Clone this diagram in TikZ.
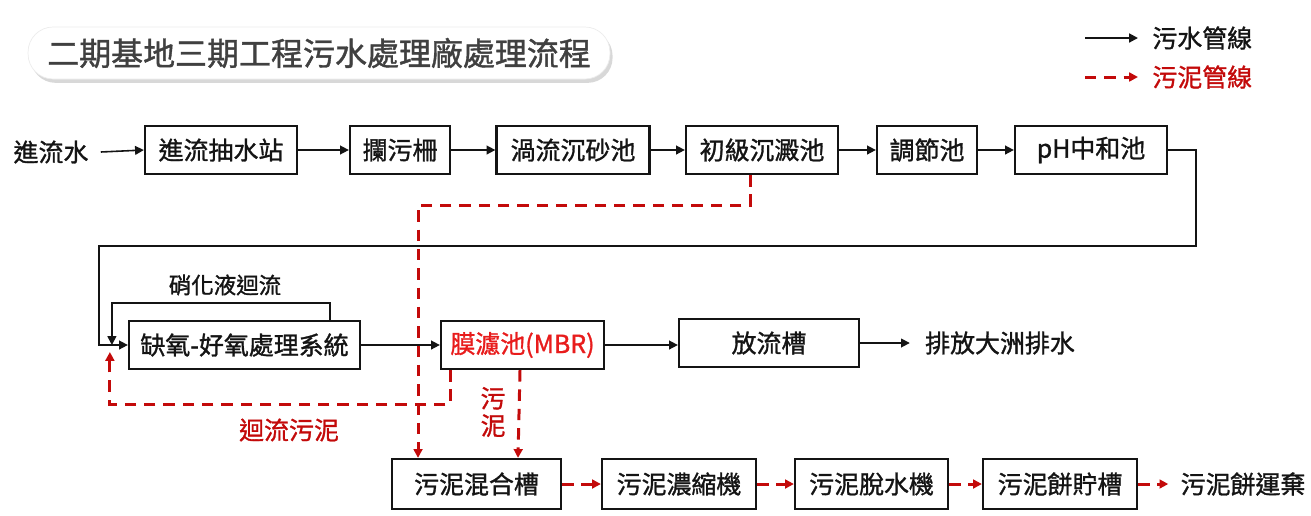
\documentclass[tikz,border=0pt]{standalone}
\usepackage{fontspec}
\setmainfont{Noto Sans CJK TC}[FakeBold=1.2]
\usetikzlibrary{arrows.meta,shadows}
\definecolor{sludge}{RGB}{195,10,10}
\definecolor{mbrred}{RGB}{232,28,28}
\definecolor{ink}{RGB}{20,20,20}
\tikzset{
  unit/.style={draw,line width=1.3pt,minimum height=0.96cm,inner sep=0pt,font=\fontsize{14.2}{14.2}\selectfont},
  word/.style={inner sep=0pt,font=\fontsize{14.2}{14.2}\selectfont},
  flow/.style={-{Triangle[length=5pt,width=5pt]},line width=0.9pt},
  mud/.style={sludge,line width=1.7pt,dash pattern=on 6.5pt off 4.5pt,-{Triangle[length=5pt,width=5pt]}}
}
\begin{document}
\begin{tikzpicture}[x=0.02cm,y=-0.02cm,ink]
  \useasboundingbox (0,0) rectangle (1311,515);
  % title
  \node[fill=white,draw=gray!15,rounded corners=0.5cm,minimum width=11.64cm,minimum height=1.04cm,
    drop shadow={shadow xshift=1.5pt,shadow yshift=-2.2pt,fill=gray!60},
    text=black!75,font=\fontsize{18.2}{18.2}\selectfont] (title) at (319,53) {二期基地三期工程污水處理廠處理流程};
  % legend
  \node[word,anchor=west] (keyw) at (1152,38) {污水管線};
  \node[word,anchor=west,sludge] (keys) at (1152,77) {污泥管線};
  \draw[flow,line width=1.1pt] ([xshift=-1.34cm]keyw.west) -- ([xshift=-0.28cm]keyw.west);
  \draw[mud] ([xshift=-1.34cm]keys.west) -- ([xshift=-0.28cm]keys.west);
  % wastewater line
  \node[word] (inflow) at (51,152) {進流水};
  \node[unit,minimum width=3.04cm] (pump) at (221,150) {進流抽水站};
  \node[unit,minimum width=2.0cm] (screen) at (400,150) {攔污柵};
  \node[unit,minimum width=3.06cm] (grit) at (573,150) {渦流沉砂池};
  \node[unit,minimum width=3.04cm] (sed) at (762,150) {初級沉澱池};
  \node[unit,minimum width=2.0cm] (eq) at (927,150) {調節池};
  \node[unit,minimum width=3.04cm] (ph) at (1091,150) {pH中和池};
  \draw[flow] ([xshift=0.24cm]inflow.east) -- (pump.west);
  \draw[flow] (pump) -- (screen);
  \draw[flow] (screen) -- (grit);
  \draw[flow] (grit) -- (sed);
  \draw[flow] (sed) -- (eq);
  \draw[flow] (eq) -- (ph);
  \node[unit,minimum width=4.62cm] (anox) at (244.5,345) {缺氧-好氧處理系統};
  \node[unit,minimum width=3.26cm,text=mbrred] (mbr) at (522.5,345) {膜濾池(MBR)};
  \node[unit,minimum width=3.6cm] (outfall) at (769,343) {放流槽};
  \node[word] (drain) at (1000,343) {排放大洲排水};
  \draw[flow] (ph.east) -- ++(28,0) -- ++(0,96) -| ([xshift=-0.58cm]anox.west) -- (anox.west);
  \draw[flow] ([xshift=1.71cm]anox.north) -- ++(0,-17) -| ([xshift=-0.32cm]anox.west);
  \node[word,font=\fontsize{12.8}{12.8}\selectfont] (nitro) at (225,285) {硝化液迴流};
  \draw[flow] (anox) -- (mbr);
  \draw[flow] (mbr.east) -- (outfall.west |- mbr.east);
  \draw[flow] (outfall.east) -- ([xshift=-0.3cm]drain.west);
  % sludge line
  \node[unit,minimum width=3.38cm,minimum height=1.0cm] (mix) at (476.5,484) {污泥混合槽};
  \node[unit,minimum width=3.08cm,minimum height=1.0cm] (thick) at (679,484) {污泥濃縮機};
  \node[unit,minimum width=3.06cm,minimum height=1.0cm] (dewater) at (871.5,484) {污泥脫水機};
  \node[unit,minimum width=3.08cm,minimum height=1.0cm] (store) at (1060,484) {污泥餅貯槽};
  \node[word] (haul) at (1243,484) {污泥餅運棄};
  \draw[mud] ([xshift=-0.24cm]sed.south) -- ++(0,30) -| ([xshift=-1.17cm]mix.north);
  \draw[mud] ([xshift=-1.45cm]mbr.south) -- ++(0,34) -| ([xshift=-0.36cm,yshift=-0.14cm]anox.west);
  \draw[mud] ([xshift=-0.05cm]mbr.south) -- ([xshift=0.83cm]mix.north);
  \node[word,sludge] (back) at (289,430) {迴流污泥};
  \node[word,sludge,align=center,font=\fontsize{14.2}{15.5}\selectfont] (cut) at (493,412) {污\\泥};
  \draw[mud] (mix) -- (thick);
  \draw[mud] (thick) -- (dewater);
  \draw[mud] (dewater) -- (store);
  \draw[mud] (store.east) -- ([xshift=-0.24cm]haul.west);
\end{tikzpicture}
\end{document}
